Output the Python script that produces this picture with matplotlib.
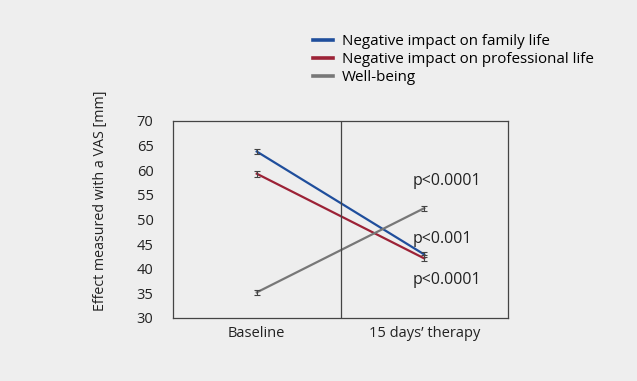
import matplotlib.pyplot as plt
from matplotlib.lines import Line2D

plt.rcParams['font.family'] = ['Open Sans', 'DejaVu Sans']

# data
timepoints = ['Baseline', '15 days\u2019 therapy']
family_life = [63.8, 42.9]
professional_life = [59.3, 42.1]
well_being = [35.2, 52.3]
family_err = [0.6, 0.6]
professional_err = [0.6, 0.6]
well_being_err = [0.5, 0.5]
p_labels = ['p<0.0001', 'p<0.001', 'p<0.0001']
p_label_y = [57.8, 46.0, 37.8]
series_names = ['Negative impact on family life',
                'Negative impact on professional life',
                'Well-being']
colors = ['#1f4e9c', '#9c2236', '#777777']

bg = '#eeeeee'
fig = plt.figure(figsize=(6.37, 3.81), dpi=100, facecolor=bg)
ax = fig.add_axes([173 / 637, 1 - 318 / 381, 335 / 637, 197 / 381])
ax.set_facecolor(bg)

x = list(range(len(timepoints)))
for vals, errs, c in zip([family_life, professional_life, well_being],
                         [family_err, professional_err, well_being_err], colors):
    ax.plot(x, vals, color=c, lw=1.6)
    ax.errorbar(x, vals, yerr=errs, fmt='none', ecolor='#444444',
                elinewidth=0.8, capsize=2, capthick=0.8)

ax.axvline(0.5, color='#444444', lw=0.9)
for txt, yy in zip(p_labels, p_label_y):
    ax.text(0.93, yy, txt, fontsize=11.5, va='center', ha='left', color='#222222')

ax.set_xlim(-0.5, 1.5)
ax.set_ylim(30, 70)
ax.set_yticks(range(30, 71, 5))
ax.set_xticks(x)
ax.set_xticklabels(timepoints)
ax.tick_params(length=0, labelsize=10.5, colors='#222222', pad=6)
ax.tick_params(axis='y', pad=14)
for s in ax.spines.values():
    s.set_color('#444444')
    s.set_linewidth(0.9)
ax.set_ylabel('Effect measured with a VAS [mm]', fontsize=10.3, color='#222222')
ax.yaxis.set_label_coords(-0.195, 0.594)

handles = [Line2D([0], [0], color=c, lw=2.6) for c in colors]
fig.legend(handles, series_names, loc='upper left',
           bbox_to_anchor=(307 / 637, 1 - 28 / 381), frameon=False,
           fontsize=10.9, handlelength=1.3, handletextpad=0.6,
           labelspacing=0.2, borderaxespad=0)

fig.savefig('out.png', dpi=100, facecolor=bg)
